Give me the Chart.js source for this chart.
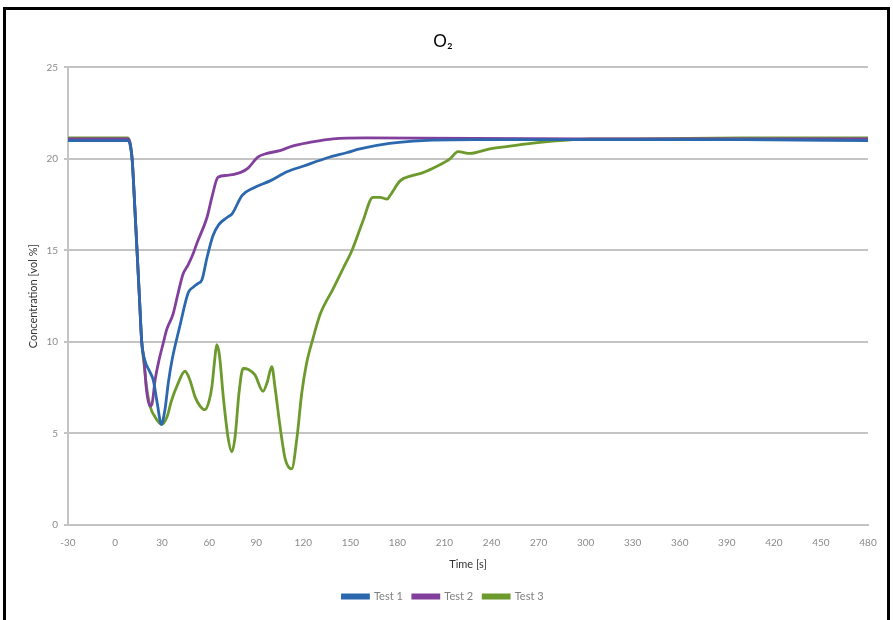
<!DOCTYPE html>
<html>
<head>
<meta charset="utf-8">
<title>O2</title>
<script src="https://cdn.jsdelivr.net/npm/chart.js@4"></script>
<style>
  html, body { margin: 0; padding: 0; background: #fff; }
  #wrap { position: relative; width: 893px; height: 620px; overflow: hidden; }
  #frame { position: absolute; left: 3px; top: 7px; width: 881px; height: 640px; border: 3px solid #000; pointer-events: none; }
  canvas { position: absolute; left: 0; top: 0; }
</style>
</head>
<body>
<div id="wrap">
  <canvas id="myChart" width="893" height="620"></canvas>
  <div id="frame"></div>
</div>
<script>
'use strict';

let seriesNames = ['Test 1', 'Test 2', 'Test 3'];
let seriesColors = ['#2b68ae', '#82409c', '#6c9a2c'];

let test1Time = [-30, 0, 8, 9.5, 11, 12.5, 14, 15.5, 17, 19, 22, 24.4, 27, 29.5, 31.8, 34, 36.3, 41.4, 46.7, 50, 52.9, 55.4, 58.6, 62.4, 66, 71.4, 74.6, 80.9, 87.9, 98.8, 109.6, 119.8, 135, 148, 156, 175, 196, 230, 300, 400, 480];
let test1Conc = [21.0, 21.0, 21.0, 20.8, 19.8, 17.5, 15.0, 12.5, 10.0, 9.0, 8.4, 7.9, 6.6, 5.5, 6.3, 7.8, 9.0, 10.9, 12.7, 13.0, 13.2, 13.4, 14.6, 15.8, 16.4, 16.8, 17.0, 18.0, 18.4, 18.8, 19.3, 19.6, 20.05, 20.35, 20.55, 20.85, 21.0, 21.05, 21.05, 21.05, 21.0];

let test2Time = [-30, 0, 8, 9.5, 11, 12.5, 14, 15.5, 17, 18.5, 20, 22.3, 23.5, 25.5, 28, 30.6, 33, 36.9, 40, 43.3, 46.5, 49.7, 52.2, 58.6, 62, 65.6, 71.4, 79.7, 84.8, 91, 96.9, 105, 113, 124, 139, 160, 300, 480];
let test2Conc = [21.1, 21.1, 21.1, 20.9, 19.9, 17.5, 15.0, 12.5, 10.0, 9.0, 7.4, 6.5, 6.6, 7.9, 9.0, 9.9, 10.7, 11.5, 12.6, 13.7, 14.2, 14.8, 15.4, 16.8, 18.0, 19.0, 19.1, 19.25, 19.5, 20.1, 20.3, 20.45, 20.7, 20.9, 21.1, 21.15, 21.1, 21.1];

let test3Time = [-30, 0, 8, 9.5, 11, 12.5, 14, 15.5, 17, 18.5, 20, 22.3, 25.5, 29.7, 33.1, 36, 39.5, 44.6, 47.8, 51, 54.2, 57.3, 60, 61.8, 63.5, 64.8, 66.5, 69, 72, 74.4, 76.5, 79, 81.6, 85, 89.2, 94.3, 97, 99.9, 102, 105, 108.5, 112.6, 116, 119, 122, 126.2, 130.7, 139, 145.3, 151, 158, 164.4, 169, 173.4, 175.3, 181.7, 189.9, 196.3, 205.2, 213.5, 218.6, 226.3, 239, 251.8, 270.9, 291.9, 303, 330, 400, 480];
let test3Conc = [21.15, 21.15, 21.15, 20.9, 19.9, 17.5, 15.0, 12.5, 10.0, 8.8, 7.6, 6.5, 5.9, 5.5, 5.9, 6.8, 7.6, 8.4, 7.9, 7.0, 6.5, 6.3, 6.8, 7.6, 9.0, 9.85, 9.3, 7.0, 4.8, 4.0, 4.8, 7.2, 8.55, 8.5, 8.2, 7.3, 7.8, 8.65, 7.5, 5.5, 3.6, 3.07, 4.8, 7.2, 8.8, 10.2, 11.5, 12.9, 14.0, 15.0, 16.6, 17.9, 17.9, 17.8, 18.0, 18.8, 19.1, 19.25, 19.6, 20.0, 20.4, 20.3, 20.55, 20.7, 20.9, 21.05, 21.1, 21.1, 21.15, 21.15];

let xTicks = [-30, 0, 30, 60, 90, 120, 150, 180, 210, 240, 270, 300, 330, 360, 390, 420, 450, 480];
let yTicks = [0, 5, 10, 15, 20, 25];

function toPoints(times, values) {
  let pts = [];
  for (let i = 0; i < times.length; i++) {
    pts.push({ x: times[i], y: values[i] });
  }
  return pts;
}

let allTimes = [test1Time, test2Time, test3Time];
let allConc = [test1Conc, test2Conc, test3Conc];

let datasets = [];
for (let i = 0; i < seriesNames.length; i++) {
  datasets.push({
    label: seriesNames[i],
    data: toPoints(allTimes[i], allConc[i]),
    borderColor: seriesColors[i],
    backgroundColor: seriesColors[i],
    borderWidth: 2.8,
    pointRadius: 0,
    cubicInterpolationMode: 'monotone',
    fill: false
  });
}

let ctx = document.getElementById('myChart').getContext('2d');

let myChart = new Chart(ctx, {
  type: 'line',
  data: { datasets: datasets },
  options: {
    responsive: false,
    animation: false,
    layout: { padding: { left: 18, right: 25, top: 12, bottom: 8 } },
    plugins: {
      title: {
        display: true,
        text: 'O\u2082',
        color: '#000',
        font: { family: 'Lato', size: 17, weight: 'normal' },
        padding: { top: 19, bottom: 16 }
      },
      legend: {
        position: 'bottom',
        labels: {
          boxWidth: 26,
          boxHeight: 3,
          padding: 10,
          color: '#808080',
          font: { family: 'Lato', size: 11 }
        }
      },
      tooltip: { enabled: false }
    },
    scales: {
      x: {
        type: 'linear',
        min: -30,
        max: 480,
        afterBuildTicks: function (scale) {
          scale.ticks = xTicks.map(function (v) { return { value: v }; });
        },
        afterFit: function (scale) { scale.height = 56; },
        grid: { color: 'transparent', drawTicks: true, tickLength: 4 },
        border: { color: '#c4c4c4', width: 2 },
        ticks: {
          color: '#8a8a8a',
          padding: 8,
          maxRotation: 0,
          autoSkip: false,
          font: { family: 'Lato', size: 10 }
        },
        title: {
          display: true,
          text: 'Time [s]',
          color: '#333',
          font: { family: 'Lato', size: 11 },
          padding: { top: 4, bottom: 10 }
        }
      },
      y: {
        min: 0,
        max: 25,
        afterBuildTicks: function (scale) {
          scale.ticks = yTicks.map(function (v) { return { value: v }; });
        },
        afterFit: function (scale) { scale.width = 50; },
        grid: { color: '#c4c4c4', lineWidth: 2, drawTicks: true, tickLength: 4 },
        border: { color: '#c4c4c4', width: 2 },
        ticks: {
          color: '#8a8a8a',
          padding: 6,
          font: { family: 'Lato', size: 10 }
        },
        title: {
          display: true,
          text: 'Concentration [vol %]',
          color: '#333',
          font: { family: 'Lato', size: 11 },
          padding: { top: 9, bottom: 4 }
        }
      }
    }
  }
});
</script>
</body>
</html>
